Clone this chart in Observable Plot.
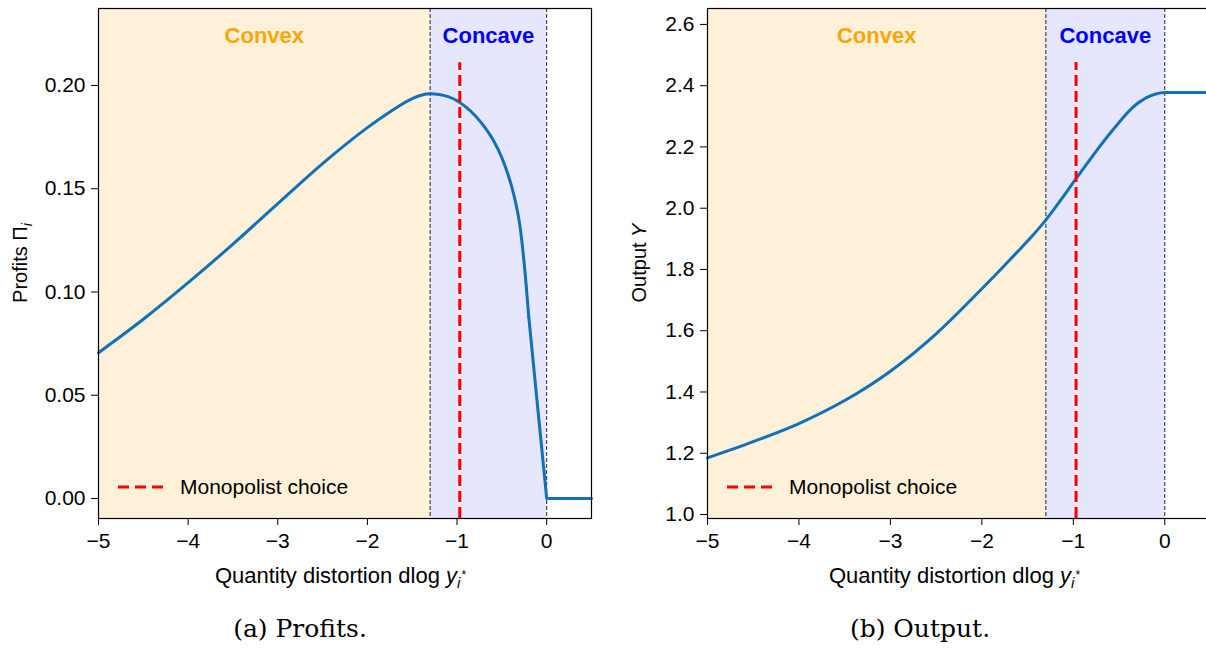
<!DOCTYPE html>
<html><head><meta charset="utf-8">
<script src="https://cdn.jsdelivr.net/npm/d3@7"></script>
<script src="https://cdn.jsdelivr.net/npm/@observablehq/plot@0.6"></script>
<style>
html,body{margin:0;padding:0;background:#fff;overflow:hidden}
#fig{position:relative;width:1206px;height:652px;overflow:hidden;background:#fff}
.panel{position:absolute;top:0}
.cap{position:absolute;font-family:"DejaVu Serif",serif;font-size:25px;line-height:1;transform:translateX(-50%);white-space:nowrap;top:616px;color:#000}
</style></head><body><div id="fig"></div>
<script>
// ---------- data ----------
const distortion = [-5, -4.5, -4, -3.5, -3, -2.5, -2, -1.75, -1.5, -1.4, -1.3, -1.2, -1.1, -1.0, -0.9, -0.8, -0.7, -0.6, -0.5, -0.4, -0.35, -0.3, -0.25, -0.2, -0.1, 0, 0.5];
const profits    = [0.0706, 0.0868, 0.1045, 0.1232, 0.1428, 0.1622, 0.1796, 0.1872, 0.1937, 0.1953, 0.1960, 0.1957, 0.1946, 0.1926, 0.1895, 0.1855, 0.1803, 0.1738, 0.1650, 0.1525, 0.1440, 0.1325, 0.1135, 0.0880, 0.0440, 0, 0];
const output     = [1.185, 1.238, 1.297, 1.372, 1.468, 1.590, 1.737, 1.814, 1.893, 1.926, 1.962, 2.001, 2.042, 2.084, 2.125, 2.166, 2.206, 2.244, 2.280, 2.314, 2.329, 2.342, 2.352, 2.361, 2.373, 2.378, 2.378];
const regionNames = ["Convex", "Concave"];
const regionStart = [-5, -1.3];
const regionEnd   = [-1.3, 0];
const boundaries  = [-1.3, 0];
const monopolistChoice = -0.97;
const xTicks = [-5, -4, -3, -2, -1, 0];
const profitTicks = [0, 0.05, 0.10, 0.15, 0.20];
const outputTicks = [1.0, 1.2, 1.4, 1.6, 1.8, 2.0, 2.2, 2.4, 2.6];
const captions = ["(a) Profits.", "(b) Output."];

// ---------- styles ----------
const BLUE = "#1071b9";
const regionFill = {Convex: "#fff1d9", Concave: "#e6e6fc"};
const regionText = {Convex: "#ffa500", Concave: "#0000ff"};
const FONT = "'Liberation Sans', Arial, sans-serif";

const regions = regionNames.map((name, i) => ({name, start: regionStart[i], end: regionEnd[i]}));
const kinkIndex = distortion.indexOf(-0.2);

function panel({values, yDomain, yTicks, yFormat, monoTop, width, marginLeft, marginRight, smoothAll, yLabel, yLabelOffset, left}) {
  const pts = distortion.map((x, i) => ({x, y: values[i]}));
  const lineMarks = smoothAll
    ? [Plot.line(pts, {x: "x", y: "y", curve: "monotone-x", stroke: BLUE, strokeWidth: 3})]
    : [Plot.line(pts.slice(0, kinkIndex + 1), {x: "x", y: "y", curve: "monotone-x", stroke: BLUE, strokeWidth: 3}),
       Plot.line(pts.slice(kinkIndex), {x: "x", y: "y", curve: "linear", stroke: BLUE, strokeWidth: 3})];
  const top = 8, bottom = 518, H = 600;
  const svg = Plot.plot({
    width, height: H, marginLeft, marginRight, marginTop: top, marginBottom: H - bottom,
    style: {fontFamily: FONT, fontSize: "21px", color: "black", background: "transparent", overflow: "visible"},
    x: {domain: [-5, 0.5], ticks: xTicks, tickFormat: d3.format("d"), tickSize: 7, tickPadding: 8, label: null},
    y: {domain: yDomain, ticks: yTicks, tickFormat: d3.format(yFormat), tickSize: 7, tickPadding: 6, label: null},
    marks: [
      Plot.rect(regions, {x1: "start", x2: "end", y1: yDomain[0], y2: yDomain[1], fill: d => regionFill[d.name]}),
      Plot.ruleX(boundaries, {stroke: "#222", strokeWidth: 1, strokeDasharray: "4,2"}),
      ...lineMarks,
      Plot.ruleX([monopolistChoice], {y1: yDomain[0], y2: monoTop, stroke: "red", strokeWidth: 3, strokeDasharray: "11,5"}),
      Plot.text(regions, {x: d => (d.start + d.end) / 2, text: "name", frameAnchor: "top", dy: 27, lineAnchor: "middle",
        fill: d => regionText[d.name], fontWeight: "bold", fontSize: 22}),
      Plot.frame({stroke: "black", strokeWidth: 1.2})
    ]
  });
  const s = d3.select(svg);
  // y label
  const yl = s.append("text")
    .attr("transform", `translate(${marginLeft - yLabelOffset},${(top + bottom) / 2}) rotate(-90)`)
    .attr("text-anchor", "middle").attr("fill", "black").attr("font-size", 20).attr("font-family", FONT);
  yLabel(yl);
  // x label
  const xl = s.append("text")
    .attr("x", marginLeft + (width - marginLeft - marginRight) / 2 - 4).attr("y", 583)
    .attr("text-anchor", "middle").attr("fill", "black").attr("font-size", 22).attr("font-family", FONT);
  xl.append("tspan").text("Quantity distortion dlog ");
  xl.append("tspan").attr("font-style", "italic").text("y");
  xl.append("tspan").attr("font-style", "italic").attr("font-size", 15).attr("dy", 5).text("i");
  xl.append("tspan").attr("font-size", 12).attr("dy", -9).attr("dx", 1).text("*");
  // legend
  const lg = s.append("g").attr("transform", `translate(${marginLeft},${487})`);
  lg.append("line").attr("x1", 20).attr("x2", 65).attr("y1", 0).attr("y2", 0)
    .attr("stroke", "red").attr("stroke-width", 3).attr("stroke-dasharray", "11,6");
  lg.append("text").attr("x", 82).attr("y", 0).attr("dy", "0.35em").attr("fill", "black")
    .attr("text-anchor", "start")
    .attr("font-size", 21).attr("font-family", FONT).text("Monopolist choice");
  svg.classList.add("panel");
  svg.style.left = left + "px";
  return svg;
}

const fig = document.getElementById("fig");
fig.appendChild(panel({
  values: profits, yDomain: [-0.0097, 0.2373], yTicks: profitTicks, yFormat: ".2f", monoTop: 0.211,
  width: 600, marginLeft: 98, marginRight: 9, smoothAll: false, left: 0, yLabelOffset: 71,
  yLabel: t => { t.append("tspan").text("Profits Π"); t.append("tspan").attr("font-style", "italic").attr("font-size", 14).attr("dy", 5).text("i"); }
}));
fig.appendChild(panel({
  values: output, yDomain: [0.987, 2.652], yTicks: outputTicks, yFormat: ".1f", monoTop: 2.476,
  width: 612, marginLeft: 107, marginRight: 2, smoothAll: true, left: 600, yLabelOffset: 61,
  yLabel: t => { t.append("tspan").text("Output "); t.append("tspan").attr("font-style", "italic").text("Y"); }
}));
const capX = [300, 920];
captions.forEach((c, i) => {
  const d = document.createElement("div");
  d.className = "cap"; d.textContent = c; d.style.left = capX[i] + "px";
  fig.appendChild(d);
});
</script>
</body></html>
